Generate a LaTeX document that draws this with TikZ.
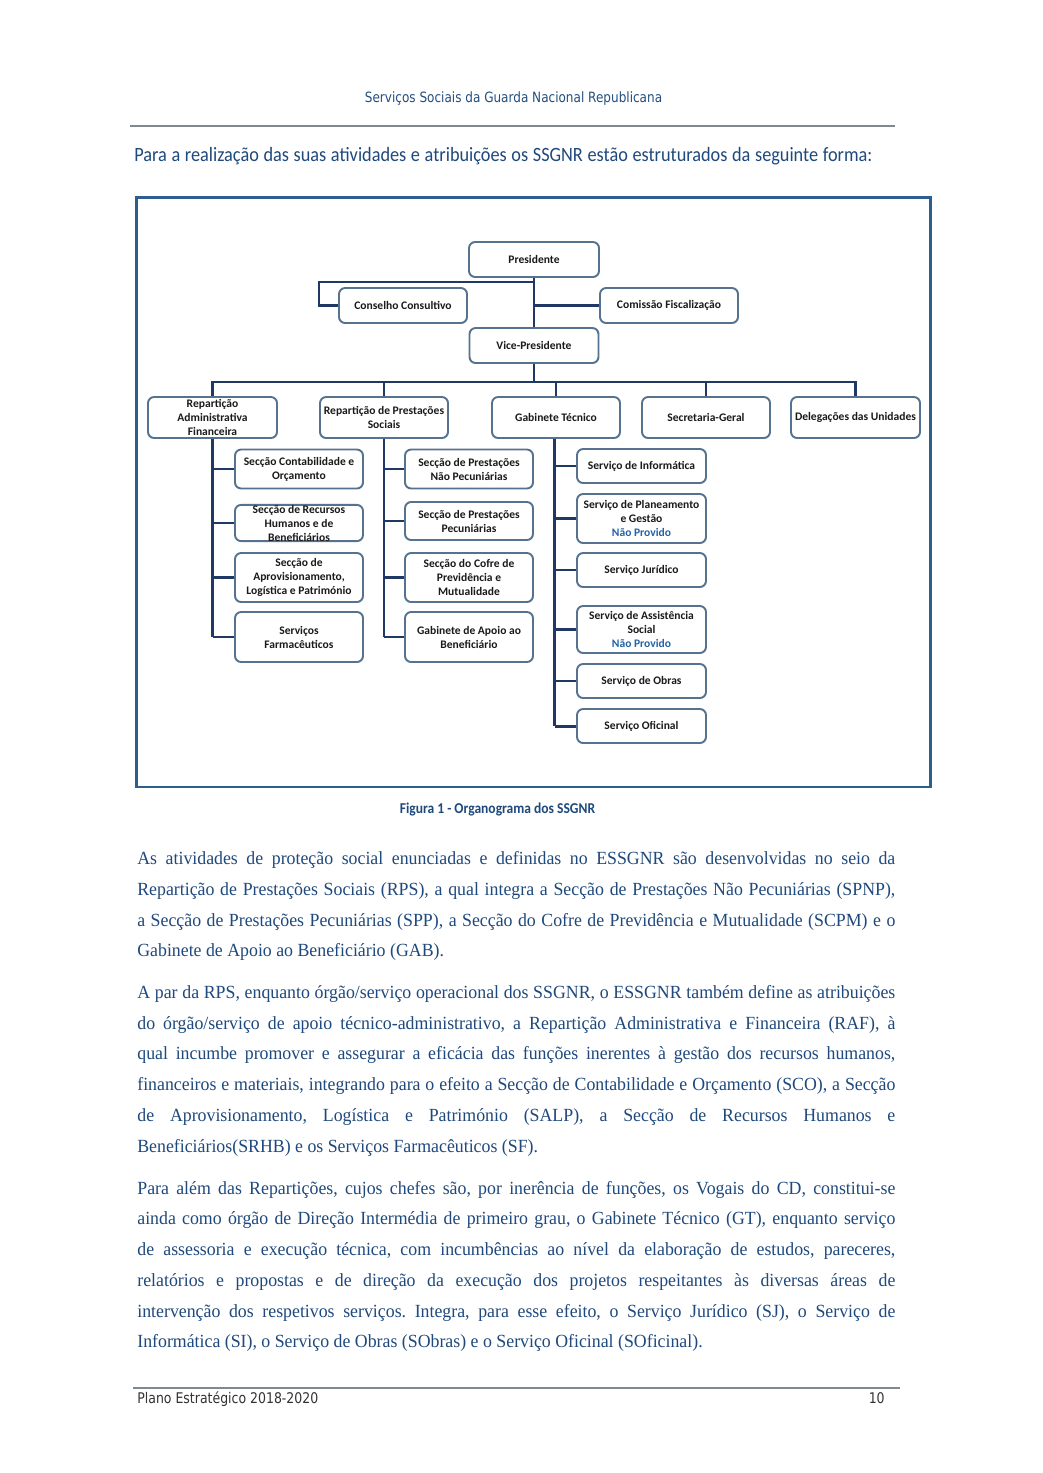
\documentclass[tikz,border=0pt]{standalone}
\usepackage{fontspec}
\setmainfont[FakeStretch=0.96]{Liberation Serif}
\newfontfamily\calfam{Carlito}
\newfontfamily\calcond[FakeStretch=0.9]{Carlito}
\newfontfamily\hdrfam[FakeStretch=0.85]{DejaVu Sans}
\newdimen\pxu \pxu=0.5713pt
\newdimen\jw \jw=758\pxu
\definecolor{txtblue}{HTML}{1F497D}
\definecolor{hdrblue}{HTML}{244F80}
\definecolor{framec}{HTML}{2E5E8E}
\definecolor{linec}{HTML}{1F3864}
\definecolor{boxc}{HTML}{55738F}
\definecolor{nodetxt}{HTML}{1A1A1A}
\definecolor{npblue}{HTML}{2463A6}
\definecolor{rulec}{HTML}{7F8893}
\newcommand{\nodefont}{\calfam\bfseries\fontsize{6.6}{8}\selectfont}
\newcommand{\np}{{\color{npblue}Não Provido}}
\newcommand{\bx}[6]{\node[box, minimum width=#4\pxu, minimum height=#5\pxu] (#1) at (#2,#3) {#6};}
\frenchspacing
\begin{document}
\begin{tikzpicture}[x=0.5713pt,y=-0.5713pt,
  box/.style={draw=boxc, line width=1.1pt, rounded corners=3.5pt, fill=white, align=center, inner sep=0pt, font=\nodefont, text=nodetxt},
  conn/.style={draw=linec, line width=1.7pt},
  bodyl/.style={anchor=base west, inner sep=0pt, font=\fontsize{10.6}{12}\selectfont, text=txtblue},
]
\useasboundingbox (0,0) rectangle (1042,1473);
\fill[white] (0,0) rectangle (1042,1473);

% header
\node[inner sep=0pt, font=\hdrfam\fontsize{8.1}{9}\selectfont, text=hdrblue] (hdr) at (513.5,99) {Serviços Sociais da Guarda Nacional Republicana};
\draw[rulec, line width=1.5pt] (130,126) -- (895,126);
\node[anchor=base west, inner sep=0pt, font=\calcond\fontsize{11.6}{13}\selectfont, text=txtblue] (intro) at (134,161) {\makebox[738\pxu][s]{Para a realização das suas atividades e atribuições os SSGNR estão estruturados da seguinte forma:}};

% frame
\draw[framec, line width=1.2pt] (136.5,197.5) rectangle (930.5,787);

% nodes
\bx{pres}{534}{259.5}{130}{35}{Presidente}
\bx{cc}{403}{305.5}{128}{35}{Conselho Consultivo}
\bx{cf}{669}{305.5}{138}{35}{Comissão Fiscalização}
\bx{vp}{534}{345.5}{129}{35}{Vice-Presidente}

\bx{raf}{212.5}{417.5}{129}{41}{Repartição\\Administrativa\\Financeira}
\bx{rps}{384}{417.5}{128}{41}{Repartição de Prestações\\Sociais}
\bx{gt}{556}{417.5}{128}{41}{Gabinete Técnico}
\bx{sg}{706}{417.5}{128}{41}{Secretaria-Geral}
\bx{du}{855.5}{417.5}{129}{41}{Delegações das Unidades}

\bx{sco}{299}{469}{128}{39}{Secção Contabilidade e\\Orçamento}
\bx{srh}{299}{523}{128}{36}{Secção de Recursos\\Humanos e de\\Beneficiários}
\bx{salp}{299}{577.5}{128}{49}{Secção de\\Aprovisionamento,\\Logística e Património}
\bx{sf}{299}{637}{128}{50}{Serviços\\Farmacêuticos}

\bx{spnp}{469}{469}{128}{39}{Secção de Prestações\\Não Pecuniárias}
\bx{spp}{469}{521}{128}{38}{Secção de Prestações\\Pecuniárias}
\bx{scpm}{469}{577.5}{128}{49}{Secção do Cofre de\\Previdência e\\Mutualidade}
\bx{gab}{469}{637}{128}{50}{Gabinete de Apoio ao\\Beneficiário}

\bx{si}{641.5}{466}{129}{34}{Serviço de Informática}
\bx{spg}{641.5}{518.5}{129}{49}{Serviço de Planeamento\\e Gestão\\\np}
\bx{sj}{641.5}{570}{129}{34}{Serviço Jurídico}
\bx{sas}{641.5}{629.5}{129}{47}{Serviço de Assistência\\Social\\\np}
\bx{sob}{641.5}{681}{129}{34}{Serviço de Obras}
\bx{sof}{641.5}{726}{129}{34}{Serviço Oficinal}

% connectors
\coordinate (ccb) at (319,282);
\coordinate (bus) at (0,382);
\draw[conn] (pres.south) |- (ccb) |- (cc.west);
\draw[conn] (pres.south) -- (vp.north);
\draw[conn] (pres.south |- cf.west) -- (cf.west);
\foreach \n in {raf,rps,gt,sg,du} \draw[conn] (vp.south) -- (vp.south |- bus) -| (\n.north);
\draw[conn] (raf.south) -- (raf.south |- sf.west);
\foreach \c in {sco,srh,salp,sf} \draw[conn] (raf.south |- \c.west) -- (\c.west);
\draw[conn] (rps.south) -- (rps.south |- gab.west);
\foreach \c in {spnp,spp,scpm,gab} \draw[conn] (rps.south |- \c.west) -- (\c.west);
\draw[conn] ([xshift=-0.6pt]gt.south) -- ([xshift=-0.6pt]gt.south |- sof.west);
\foreach \c in {si,spg,sj,sas,sob,sof} \draw[conn] ([xshift=-0.6pt]gt.south |- \c.west) -- (\c.west);

% caption
\node[inner sep=0pt, font=\calcond\bfseries\fontsize{8.6}{10}\selectfont, text=txtblue] (cap) at (497.5,809) {Figura 1 - Organograma dos SSGNR};

% paragraph 1
\node[bodyl] (p1a) at (137,864) {\makebox[\jw][s]{As atividades de proteção social enunciadas e definidas no ESSGNR são desenvolvidas no seio da}};
\node[bodyl] (p1b) at (137,895) {\makebox[\jw][s]{Repartição de Prestações Sociais (RPS), a qual integra a Secção de Prestações Não Pecuniárias (SPNP),}};
\node[bodyl] (p1c) at (137,926) {\makebox[\jw][s]{a Secção de Prestações Pecuniárias (SPP), a Secção do Cofre de Previdência e Mutualidade (SCPM) e o}};
\node[bodyl] (p1d) at (137,956) {Gabinete de Apoio ao Beneficiário (GAB).};

% paragraph 2
\node[bodyl] (p2a) at (137,998) {\makebox[\jw][s]{A par da RPS, enquanto órgão/serviço operacional dos SSGNR, o ESSGNR também define as atribuições}};
\node[bodyl] (p2b) at (137,1029) {\makebox[\jw][s]{do órgão/serviço de apoio técnico-administrativo, a Repartição Administrativa e Financeira (RAF), à}};
\node[bodyl] (p2c) at (137,1059) {\makebox[\jw][s]{qual incumbe promover e assegurar a eficácia das funções inerentes à gestão dos recursos humanos,}};
\node[bodyl] (p2d) at (137,1090) {\makebox[\jw][s]{financeiros e materiais, integrando para o efeito a Secção de Contabilidade e Orçamento (SCO), a Secção}};
\node[bodyl] (p2e) at (137,1121) {\makebox[\jw][s]{de Aprovisionamento, Logística e Património (SALP), a Secção de Recursos Humanos e}};
\node[bodyl] (p2f) at (137,1152) {Beneficiários(SRHB) e os Serviços Farmacêuticos (SF).};

% paragraph 3
\node[bodyl] (p3a) at (137,1194) {\makebox[\jw][s]{Para além das Repartições, cujos chefes são, por inerência de funções, os Vogais do CD, constitui-se}};
\node[bodyl] (p3b) at (137,1224) {\makebox[\jw][s]{ainda como órgão de Direção Intermédia de primeiro grau, o Gabinete Técnico (GT), enquanto serviço}};
\node[bodyl] (p3c) at (137,1255) {\makebox[\jw][s]{de assessoria e execução técnica, com incumbências ao nível da elaboração de estudos, pareceres,}};
\node[bodyl] (p3d) at (137,1286) {\makebox[\jw][s]{relatórios e propostas e de direção da execução dos projetos respeitantes às diversas áreas de}};
\node[bodyl] (p3e) at (137,1317) {\makebox[\jw][s]{intervenção dos respetivos serviços. Integra, para esse efeito, o Serviço Jurídico (SJ), o Serviço de}};
\node[bodyl] (p3f) at (137,1347) {Informática (SI), o Serviço de Obras (SObras) e o Serviço Oficinal (SOficinal).};

% footer
\draw[rulec, line width=1pt] (133,1388) -- (900,1388);
\node[anchor=base west, inner sep=0pt, font=\hdrfam\fontsize{8.4}{9}\selectfont, text=black!80] (ftl) at (137,1403) {Plano Estratégico 2018-2020};
\node[anchor=base east, inner sep=0pt, font=\hdrfam\fontsize{8.4}{9}\selectfont, text=black!80] (ftr) at (885,1403) {10};
\end{tikzpicture}
\end{document}
